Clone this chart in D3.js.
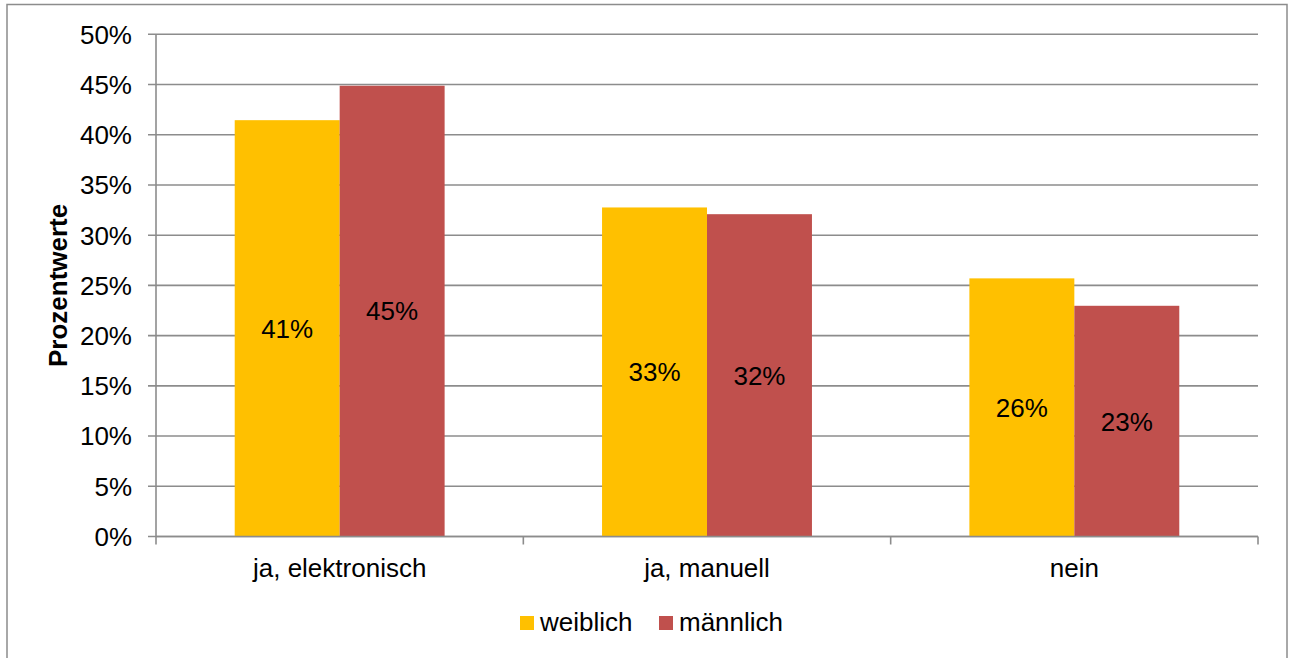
<!DOCTYPE html>
<html>
<head>
<meta charset="utf-8">
<script src="https://cdn.jsdelivr.net/npm/d3@7"></script>
<style>
  html, body { margin: 0; padding: 0; background: #fff; }
  svg { display: block; }
  text { font-family: "Liberation Sans", Arial, sans-serif; fill: #000; }
</style>
</head>
<body>
<div id="chart"></div>
<script>
const categories = ["ja, elektronisch", "ja, manuell", "nein"];
const seriesNames = ["weiblich", "männlich"];
const weiblich = [41.45, 32.76, 25.7];
const maennlich = [44.88, 32.09, 22.97];
const yTicks = [0, 5, 10, 15, 20, 25, 30, 35, 40, 45, 50];
const colors = ["#FFC000", "#C0504D"];

const W = 1293, H = 658;
const plot = { left: 156, right: 1258, top: 34.3, bottom: 536.5 };
const FS = "26px";

const svg = d3.select("#chart").append("svg")
  .attr("width", W).attr("height", H);

// outer frame
svg.append("rect")
  .attr("x", 7).attr("y", 4.5)
  .attr("width", 1287 - 7).attr("height", 700)
  .attr("fill", "none").attr("stroke", "#8c8c8c").attr("stroke-width", 1.5);

const x0 = d3.scaleBand().domain(categories)
  .range([plot.left, plot.right]).paddingInner(0).paddingOuter(0);
const x1 = d3.scaleBand().domain(seriesNames)
  .range([0, x0.bandwidth()]).paddingInner(0).paddingOuter(0.75);
const y = d3.scaleLinear().domain([0, 50]).range([plot.bottom, plot.top]);

// gridlines
svg.append("g").selectAll("line").data(yTicks).join("line")
  .attr("x1", plot.left - 8).attr("x2", plot.right)
  .attr("y1", d => y(d)).attr("y2", d => y(d))
  .attr("stroke", "#8c8c8c").attr("stroke-width", 1.6);

// y axis line
svg.append("line")
  .attr("x1", plot.left).attr("x2", plot.left)
  .attr("y1", plot.top).attr("y2", plot.bottom)
  .attr("stroke", "#8c8c8c").attr("stroke-width", 1.6);

// y tick labels
svg.append("g").selectAll("text").data(yTicks).join("text")
  .attr("x", 132).attr("y", d => y(d))
  .attr("dy", "0.36em")
  .attr("text-anchor", "end")
  .attr("font-size", FS)
  .text(d => d + "%");

// bars
const data = categories.map((c, i) => ({ cat: c, vals: [weiblich[i], maennlich[i]] }));
const groups = svg.append("g").selectAll("g").data(data).join("g")
  .attr("transform", d => `translate(${x0(d.cat)},0)`);

groups.selectAll("rect").data(d => d.vals.map((v, j) => ({ v, s: seriesNames[j], j })))
  .join("rect")
  .attr("x", d => x1(d.s))
  .attr("width", x1.bandwidth())
  .attr("y", d => y(d.v))
  .attr("height", d => y(0) - y(d.v))
  .attr("fill", d => colors[d.j]);

groups.selectAll("text").data(d => d.vals.map((v, j) => ({ v, s: seriesNames[j], j })))
  .join("text")
  .attr("x", d => x1(d.s) + x1.bandwidth() / 2)
  .attr("y", d => (y(d.v) + y(0)) / 2)
  .attr("dy", "0.36em")
  .attr("text-anchor", "middle")
  .attr("font-size", FS)
  .text(d => Math.round(d.v) + "%");

// x axis line & ticks
svg.append("line")
  .attr("x1", plot.left).attr("x2", plot.right)
  .attr("y1", plot.bottom).attr("y2", plot.bottom)
  .attr("stroke", "#8c8c8c").attr("stroke-width", 1.6);

const boundaries = categories.map(c => x0(c)).concat([x0(categories[categories.length - 1]) + x0.bandwidth()]);
svg.append("g").selectAll("line").data(boundaries).join("line")
  .attr("x1", d => d).attr("x2", d => d)
  .attr("y1", plot.bottom).attr("y2", plot.bottom + 8)
  .attr("stroke", "#8c8c8c").attr("stroke-width", 1.6);

// category labels
svg.append("g").selectAll("text").data(categories).join("text")
  .attr("x", d => x0(d) + x0.bandwidth() / 2)
  .attr("y", 577)
  .attr("text-anchor", "middle")
  .attr("font-size", FS)
  .text(d => d);

// y axis title
svg.append("text")
  .attr("transform", `translate(67,${(plot.top + plot.bottom) / 2}) rotate(-90)`)
  .attr("text-anchor", "middle")
  .attr("font-size", FS)
  .attr("font-weight", "bold")
  .text("Prozentwerte");

// legend
const legendX = [520, 659];
const lg = svg.append("g").selectAll("g").data(seriesNames).join("g")
  .attr("transform", (d, i) => `translate(${legendX[i]},616)`);
lg.append("rect").attr("width", 14).attr("height", 14)
  .attr("fill", (d, i) => colors[i]);
lg.append("text").attr("x", 20).attr("y", 15)
  .attr("font-size", FS)
  .text(d => d);
</script>
</body>
</html>
